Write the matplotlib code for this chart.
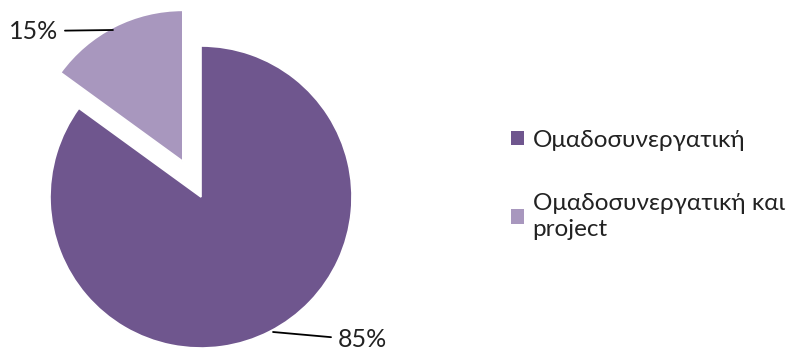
import matplotlib.pyplot as plt
from matplotlib.patches import Patch

# data
labels = ['Ομαδοσυνεργατική', 'Ομαδοσυνεργατική και\nproject']
shares = [85, 15]
colors = ['#6F568E', '#A897BE']
explode = [0, 0.265]

# label / leader-line placement (data units, pie radius = 1)
label_xy = [(0.907, -0.947), (-0.947, 1.099)]
line_end = [(0.477, -0.894), (-0.583, 1.106)]
label_ha = ['left', 'right']

plt.rcParams['font.family'] = ['Lato', 'Open Sans', 'DejaVu Sans']

fig = plt.figure(figsize=(7.88, 3.51), dpi=100)
ax = fig.add_axes([0, 0, 402 / 788, 1])

wedges, _ = ax.pie(shares, colors=colors, explode=explode, startangle=90,
                   counterclock=False,
                   wedgeprops=dict(edgecolor='white', linewidth=1.2))

for v, (tx, ty), (lx, ly), ha in zip(shares, label_xy, line_end, label_ha):
    ax.annotate(f'{v}%', xy=(lx, ly), xytext=(tx, ty), ha=ha, va='center',
                fontsize=18, color='#222222',
                arrowprops=dict(arrowstyle='-', color='black', lw=1.3,
                                shrinkA=3, shrinkB=0))

ax.set_xlim(-201 / 151, 201 / 151)
ax.set_ylim(-154 / 151, 197 / 151)
ax.set_aspect('auto')
ax.axis('off')

handles = [Patch(facecolor=c, edgecolor='none') for c in colors]
leg = fig.legend(handles, labels, loc='center left',
                 bbox_to_anchor=(489 / 788, 0.474), frameon=False,
                 fontsize=17.5, handlelength=0.55, handleheight=0.55,
                 handletextpad=0.35, labelspacing=1.75)
for t in leg.get_texts():
    t.set_linespacing(1.25)
    t.set_color('#222222')

fig.savefig('out.png', dpi=100)
